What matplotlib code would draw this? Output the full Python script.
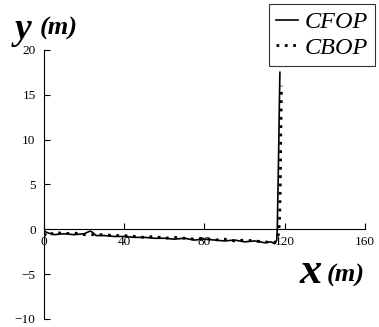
import matplotlib
matplotlib.use("Agg")
import matplotlib.pyplot as plt

plt.rcParams['font.family'] = ['Liberation Serif', 'DejaVu Serif']

cfop_x = [0, 2, 5, 10, 15, 20, 23, 24, 26, 30, 35, 40, 45, 50, 55, 60, 65, 70, 75, 80,
          85, 90, 95, 100, 105, 110, 113, 115, 116, 116.3, 116.6, 117, 117.3, 117.6]
cfop_y = [-0.2, -0.4, -0.6, -0.5, -0.6, -0.5, -0.2, -0.3, -0.7, -0.7, -0.8, -0.8, -0.9, -0.9, -1.0,
          -1.0, -1.1, -1.0, -1.2, -1.1, -1.2, -1.3, -1.2, -1.4, -1.3, -1.5, -1.4, -1.6, -1.2,
          0.0, 4.0, 9.0, 13.5, 17.5]
cbop_x = [0, 2, 5, 10, 15, 20, 25, 30, 35, 40, 45, 50, 55, 60, 65, 70, 75, 80,
          85, 90, 95, 100, 105, 110, 115, 117, 117.5, 117.8, 118, 118.2, 118.4]
cbop_y = [-0.5, -0.8, -0.3, -0.5, -0.4, -0.6, -0.6, -0.6, -0.7, -0.7, -0.8, -0.9, -0.8, -1.0,
          -0.9, -1.0, -1.1, -1.0, -1.2, -1.1, -1.3, -1.2, -1.3, -1.4, -1.5, -0.5, 1.5,
          5.0, 10.0, 13.0, 16.0]

xticks = [0, 40, 80, 120, 160]
yticks = [-10, -5, 0, 5, 10, 15, 20]

fig = plt.figure(figsize=(3.79, 3.27), dpi=100)
ax = fig.add_axes([0.116, 0.0245, 0.847, 0.823])
ax.plot(cfop_x, cfop_y, color='black', lw=1.2, label='CFOP')
ax.plot(cbop_x, cbop_y, color='black', lw=2.0, linestyle=(0, (1, 2)), label='CBOP')
ax.set_xlim(0, 160)
ax.set_ylim(-10, 20)
ax.set_xticks(xticks)
ax.set_yticks(yticks)
ax.spines['top'].set_visible(False)
ax.spines['right'].set_visible(False)
ax.spines['bottom'].set_position(('data', 0))
ax.tick_params(axis='both', direction='in', length=4, labelsize=9.5, width=0.8)
ax.tick_params(axis='x', pad=5)
ax.tick_params(axis='y', pad=6)

leg = fig.legend(loc='upper right', bbox_to_anchor=(0.989, 0.988), frameon=True,
                 fancybox=False, edgecolor='black', handlelength=0.9, handletextpad=0.25,
                 borderpad=0.3, labelspacing=0.15, borderaxespad=0,
                 prop={'style': 'italic', 'size': 17.5})
leg.get_frame().set_linewidth(0.8)

fig.text(0.04, 0.882, 'y', fontsize=27, fontweight='bold', style='italic', va='baseline')
fig.text(0.105, 0.893, '(m)', fontsize=19, fontweight='bold', style='italic', va='baseline')
fig.text(0.79, 0.135, 'x', fontsize=32, fontweight='bold', style='italic', va='baseline')
fig.text(0.863, 0.14, '(m)', fontsize=19, fontweight='bold', style='italic', va='baseline')

fig.savefig('out.png', dpi=100)
